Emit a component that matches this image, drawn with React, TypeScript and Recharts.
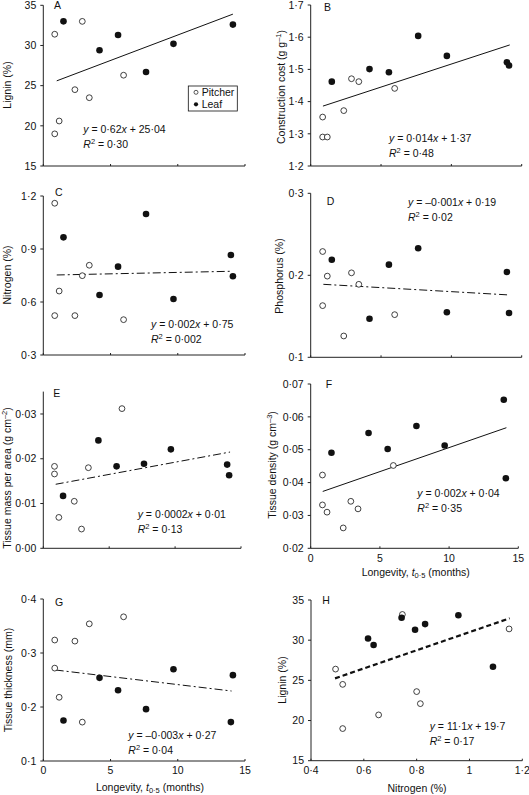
import React from "react";
import { ScatterChart, Scatter, XAxis, YAxis, ReferenceLine } from "recharts";

const W = 529;
const H = 795;
const FONT = "'Liberation Sans', Arial, Helvetica, sans-serif";
const FS = 10.5;
const INK = "#111";

// longevity t0.5 (months) of each species, shared by panels A-G
const pitcherMonths = [0.85, 0.85, 1.18, 2.35, 2.9, 3.42, 5.97];
const leafMonths = [1.5, 4.18, 5.56, 7.64, 9.68, 13.95, 14.1];

// A lignin (%)
const ligninPitcher = [31.4, 19.0, 20.6, 24.5, 33.0, 23.5, 26.3];
const ligninLeaf = [33.0, 29.4, 31.3, 26.7, 30.2, null, 32.6];
const ligninFitX = [1.0, 14.1];
const ligninFitY = [25.6, 33.9];

// B construction cost (g g-1)
const costPitcher = [1.352, 1.29, 1.29, 1.372, 1.471, 1.462, 1.441];
const costLeaf = [1.462, 1.501, 1.491, 1.604, 1.542, 1.522, 1.512];
const costFitX = [0.87, 14.15];
const costFitY = [1.386, 1.576];

// C nitrogen (%)
const nitroPitcher = [1.159, 0.523, 0.662, 0.523, 0.749, 0.808, 0.5];
const nitroLeaf = [0.966, 0.64, 0.8, 1.098, 0.617, 0.866, 0.746];
const nitroFitX = [1.0, 14.05];
const nitroFitY = [0.753, 0.774];

// D phosphorus (%)
const phosPitcher = [0.229, 0.163, 0.199, 0.126, 0.203, 0.189, 0.152];
const phosLeaf = [0.219, 0.147, 0.213, 0.233, 0.155, 0.204, 0.154];
const phosFitX = [0.9, 14.14];
const phosFitY = [0.189, 0.176];

// E tissue mass per area (g cm-2)
const tmaPitcher = [0.0183, 0.0166, 0.0069, 0.0105, 0.0043, 0.018, 0.0312];
const tmaLeaf = [0.0117, 0.0241, 0.0183, 0.0189, 0.0221, 0.0187, 0.0163];
const tmaFitX = [0.94, 14.17];
const tmaFitY = [0.0143, 0.0215];

// F tissue density (g cm-3)
const densPitcher = [0.0423, 0.0332, 0.031, 0.0262, 0.0343, 0.032, 0.0452];
const densLeaf = [0.0491, 0.0551, 0.0502, 0.0572, 0.0513, 0.0652, 0.0413];
const densFitX = [0.87, 14.14];
const densFitY = [0.0373, 0.0567];

// G tissue thickness (mm)
const thickPitcher = [0.324, 0.272, 0.218, 0.322, 0.172, 0.354, 0.367];
const thickLeaf = [0.175, 0.254, 0.231, 0.196, 0.27, 0.172, 0.259];
const thickFitX = [0.92, 14.0];
const thickFitY = [0.2685, 0.2296];

// H lignin vs nitrogen
const hPitcherN = [0.493, 0.52, 0.52, 0.656, 0.746, 0.8, 0.814, 1.15];
const hPitcherLignin = [26.4, 24.5, 19.0, 20.7, 33.2, 23.6, 22.1, 31.4];
const hLeafN = [0.616, 0.637, 0.743, 0.794, 0.832, 0.958, 1.089];
const hLeafLignin = [30.2, 29.4, 32.8, 31.3, 32.0, 33.1, 26.7];
const hFitX = [0.491, 1.152];
const hFitY = [25.25, 32.72];

const monthTicks = [0, 5, 10, 15];
const nitroXTicks = [0.4, 0.6, 0.8, 1, 1.2];

// equation text: slope, intercept, R2
const eqA = ["0·62", "25·04", "0·30"];
const eqB = ["0·014", "1·37", "0·48"];
const eqC = ["0·002", "0·75", "0·002"];
const eqD = ["–0·001", "0·19", "0·02"];
const eqE = ["0·0002", "0·01", "0·13"];
const eqF = ["0·002", "0·04", "0·35"];
const eqG = ["–0·003", "0·27", "0·04"];
const eqH = ["11·1", "19·7", "0·17"];

const pts = (xs: number[], ys: (number | null)[]) =>
  xs.map((x, i) => ({ x, y: ys[i] })).filter((d) => d.y != null);

const fmt = (d: number) => (v: number) => v.toFixed(d).replace(".", "·");
const fmtN = (v: number) => (v === 1 ? "1" : v.toFixed(1).replace(".", "·"));

const OpenDot = (p: any) => (
  <circle cx={p.cx} cy={p.cy} r={2.9} fill="#fff" stroke={INK} strokeWidth={0.8} />
);
const FilledDot = (p: any) => <circle cx={p.cx} cy={p.cy} r={3.3} fill={INK} />;

const YW = 40;
const XH = 20;

type PanelDef = {
  box: number[];
  xDomain: number[];
  xTicks: number[];
  xFmt: ((v: number) => string) | null;
  yDomain: number[];
  yTicks: number[];
  yFmt: (v: number) => string;
  pitcher: { x: number; y: any }[];
  leaf: { x: number; y: any }[];
  fit: { x: number; y: any }[];
  dash?: string;
  fitWidth?: number;
};

const dashDot = "8 3 2 3";

const panels: PanelDef[] = [
  {
    box: [43.3, 5.3, 245, 166], xDomain: [0, 15], xTicks: monthTicks, xFmt: null,
    yDomain: [15, 35], yTicks: [15, 20, 25, 30, 35], yFmt: fmt(0),
    pitcher: pts(pitcherMonths, ligninPitcher), leaf: pts(leafMonths, ligninLeaf),
    fit: pts(ligninFitX, ligninFitY),
  },
  {
    box: [310.7, 5, 521.7, 166], xDomain: [0, 15], xTicks: monthTicks, xFmt: null,
    yDomain: [1.2, 1.7], yTicks: [1.2, 1.3, 1.4, 1.5, 1.6, 1.7], yFmt: fmt(1),
    pitcher: pts(pitcherMonths, costPitcher), leaf: pts(leafMonths, costLeaf),
    fit: pts(costFitX, costFitY),
  },
  {
    box: [43.3, 196, 245, 355], xDomain: [0, 15], xTicks: monthTicks, xFmt: null,
    yDomain: [0.3, 1.2], yTicks: [0.3, 0.6, 0.9, 1.2], yFmt: fmt(1),
    pitcher: pts(pitcherMonths, nitroPitcher), leaf: pts(leafMonths, nitroLeaf),
    fit: pts(nitroFitX, nitroFitY), dash: dashDot,
  },
  {
    box: [310.7, 193.3, 521.7, 357.3], xDomain: [0, 15], xTicks: monthTicks, xFmt: null,
    yDomain: [0.1, 0.3], yTicks: [0.1, 0.2, 0.3], yFmt: fmt(1),
    pitcher: pts(pitcherMonths, phosPitcher), leaf: pts(leafMonths, phosLeaf),
    fit: pts(phosFitX, phosFitY), dash: dashDot,
  },
  {
    box: [43.3, 391.6, 241, 548.3], xDomain: [0, 15], xTicks: monthTicks, xFmt: null,
    yDomain: [0, 0.035], yTicks: [0, 0.01, 0.02, 0.03], yFmt: fmt(2),
    pitcher: pts(pitcherMonths, tmaPitcher), leaf: pts(leafMonths, tmaLeaf),
    fit: pts(tmaFitX, tmaFitY), dash: dashDot,
  },
  {
    box: [310.7, 384, 518.3, 548.3], xDomain: [0, 15], xTicks: monthTicks, xFmt: (v) => String(v),
    yDomain: [0.02, 0.07], yTicks: [0.02, 0.03, 0.04, 0.05, 0.06, 0.07], yFmt: fmt(2),
    pitcher: pts(pitcherMonths, densPitcher), leaf: pts(leafMonths, densLeaf),
    fit: pts(densFitX, densFitY),
  },
  {
    box: [43.3, 599, 245, 761], xDomain: [0, 15], xTicks: monthTicks, xFmt: (v) => String(v),
    yDomain: [0.1, 0.4], yTicks: [0.1, 0.2, 0.3, 0.4], yFmt: fmt(1),
    pitcher: pts(pitcherMonths, thickPitcher), leaf: pts(leafMonths, thickLeaf),
    fit: pts(thickFitX, thickFitY), dash: dashDot,
  },
  {
    box: [311, 600, 522.3, 760.7], xDomain: [0.4, 1.2], xTicks: nitroXTicks, xFmt: fmtN,
    yDomain: [15, 35], yTicks: [15, 20, 25, 30, 35], yFmt: fmt(0),
    pitcher: pts(hPitcherN, hPitcherLignin), leaf: pts(hLeafN, hLeafLignin),
    fit: pts(hFitX, hFitY), dash: "5 3", fitWidth: 2.2,
  },
];

const tickStyle = { fill: INK, fontSize: FS, fontFamily: FONT };

function Panel({ p }: { p: PanelDef }) {
  const [l, t, r, b] = p.box;
  return (
    <div style={{ position: "absolute", left: 0, top: 0 }}>
      <ScatterChart
        width={W}
        height={H}
        margin={{ top: t, right: W - r, bottom: H - b - XH, left: l - YW }}
      >
        <XAxis
          type="number"
          dataKey="x"
          domain={p.xDomain}
          ticks={p.xTicks}
          interval={0}
          height={XH}
          tickSize={-2}
          tickMargin={8}
          tickFormatter={p.xFmt || (() => "")}
          axisLine={{ stroke: "#222" }}
          tickLine={{ stroke: "#222" }}
          tick={tickStyle}
        />
        <YAxis
          type="number"
          dataKey="y"
          domain={p.yDomain}
          ticks={p.yTicks}
          interval={0}
          width={YW}
          tickSize={3}
          tickMargin={4}
          tickFormatter={p.yFmt}
          axisLine={{ stroke: "#222" }}
          tickLine={{ stroke: "#222" }}
          tick={tickStyle}
        />
        <ReferenceLine
          segment={p.fit}
          stroke={INK}
          strokeWidth={p.fitWidth || 1}
          strokeDasharray={p.dash}
        />
        <Scatter data={p.pitcher} shape={OpenDot} isAnimationActive={false} />
        <Scatter data={p.leaf} shape={FilledDot} isAnimationActive={false} />
      </ScatterChart>
    </div>
  );
}

const BL = 3.8; // centre -> baseline

function Letter({ x, y, s }: { x: number; y: number; s: string }) {
  return <text x={x} y={y + BL}>{s}</text>;
}

function Eq({ x, y, e }: { x: number; y: number; e: string[] }) {
  return (
    <g>
      <text x={x} y={y + BL}>
        <tspan fontStyle="italic">y</tspan>
        {" = " + e[0]}
        <tspan fontStyle="italic">x</tspan>
        {" + " + e[1]}
      </text>
      <text x={x} y={y + 15 + BL}>
        <tspan fontStyle="italic">R</tspan>
        <tspan dy={-4} fontSize={7.5}>2</tspan>
        <tspan dy={4}>{" = " + e[2]}</tspan>
      </text>
    </g>
  );
}

function YTitle({ x, y, children }: { x: number; y: number; children: any }) {
  return (
    <text transform={`translate(${x},${y}) rotate(-90)`} y={BL} textAnchor="middle">
      {children}
    </text>
  );
}

const Sup = ({ s }: { s: string }) => (
  <>
    <tspan dy={-4} fontSize={7.5}>{s}</tspan>
    <tspan dy={4}>)</tspan>
  </>
);

function Longevity({ x, y }: { x: number; y: number }) {
  return (
    <text x={x} y={y + BL} textAnchor="middle">
      {"Longevity, "}
      <tspan fontStyle="italic">t</tspan>
      <tspan dy={2.5} fontSize={7.5}>0·5</tspan>
      <tspan dy={-2.5}>{" (months)"}</tspan>
    </text>
  );
}

function Notes() {
  return (
    <svg
      width={W}
      height={H}
      style={{ position: "absolute", left: 0, top: 0, pointerEvents: "none" }}
      fontFamily={FONT}
      fontSize={FS}
      fill={INK}
    >
      <Letter x={54} y={5} s="A" />
      <Letter x={324} y={6.7} s="B" />
      <Letter x={55} y={191.7} s="C" />
      <Letter x={326.7} y={201} s="D" />
      <Letter x={53.3} y={393.5} s="E" />
      <Letter x={325.7} y={384.3} s="F" />
      <Letter x={55} y={602.3} s="G" />
      <Letter x={322.3} y={600} s="H" />

      <Eq x={83.3} y={129.3} e={eqA} />
      <Eq x={389} y={138.3} e={eqB} />
      <Eq x={151} y={324.3} e={eqC} />
      <Eq x={408} y={202.3} e={eqD} />
      <Eq x={137.7} y={514} e={eqE} />
      <Eq x={417.3} y={493.3} e={eqF} />
      <Eq x={128.3} y={735} e={eqG} />
      <Eq x={429.7} y={726} e={eqH} />

      <YTitle x={6.7} y={85}>Lignin (%)</YTitle>
      <YTitle x={280.7} y={87}>
        {"Construction cost (g g"}
        <Sup s="–1" />
      </YTitle>
      <YTitle x={7.3} y={275}>Nitrogen (%)</YTitle>
      <YTitle x={279} y={276}>Phosphorus (%)</YTitle>
      <YTitle x={7} y={478}>
        {"Tissue mass per area (g cm"}
        <Sup s="–2" />
      </YTitle>
      <YTitle x={272.3} y={465}>
        {"Tissue density (g cm"}
        <Sup s="–3" />
      </YTitle>
      <YTitle x={8.3} y={680}>Tissue thickness (mm)</YTitle>
      <YTitle x={282.3} y={680}>Lignin (%)</YTitle>

      <Longevity x={415.7} y={571.7} />
      <Longevity x={150} y={786.7} />
      <text x={417} y={788 + BL} textAnchor="middle">Nitrogen (%)</text>

      <rect x={188.3} y={86} width={49} height={25} fill="#fff" stroke={INK} strokeWidth={0.8} />
      <circle cx={196} cy={92.3} r={2} fill="#fff" stroke={INK} strokeWidth={0.7} />
      <text x={201.7} y={92.3 + BL}>Pitcher</text>
      <circle cx={196} cy={104.3} r={2.1} fill={INK} />
      <text x={201.7} y={104.3 + BL}>Leaf</text>
    </svg>
  );
}

export default function App() {
  return (
    <div style={{ position: "absolute", left: 0, top: 0, width: W, height: H, background: "#fff" }}>
      {panels.map((p, i) => (
        <Panel key={i} p={p} />
      ))}
      <Notes />
    </div>
  );
}
